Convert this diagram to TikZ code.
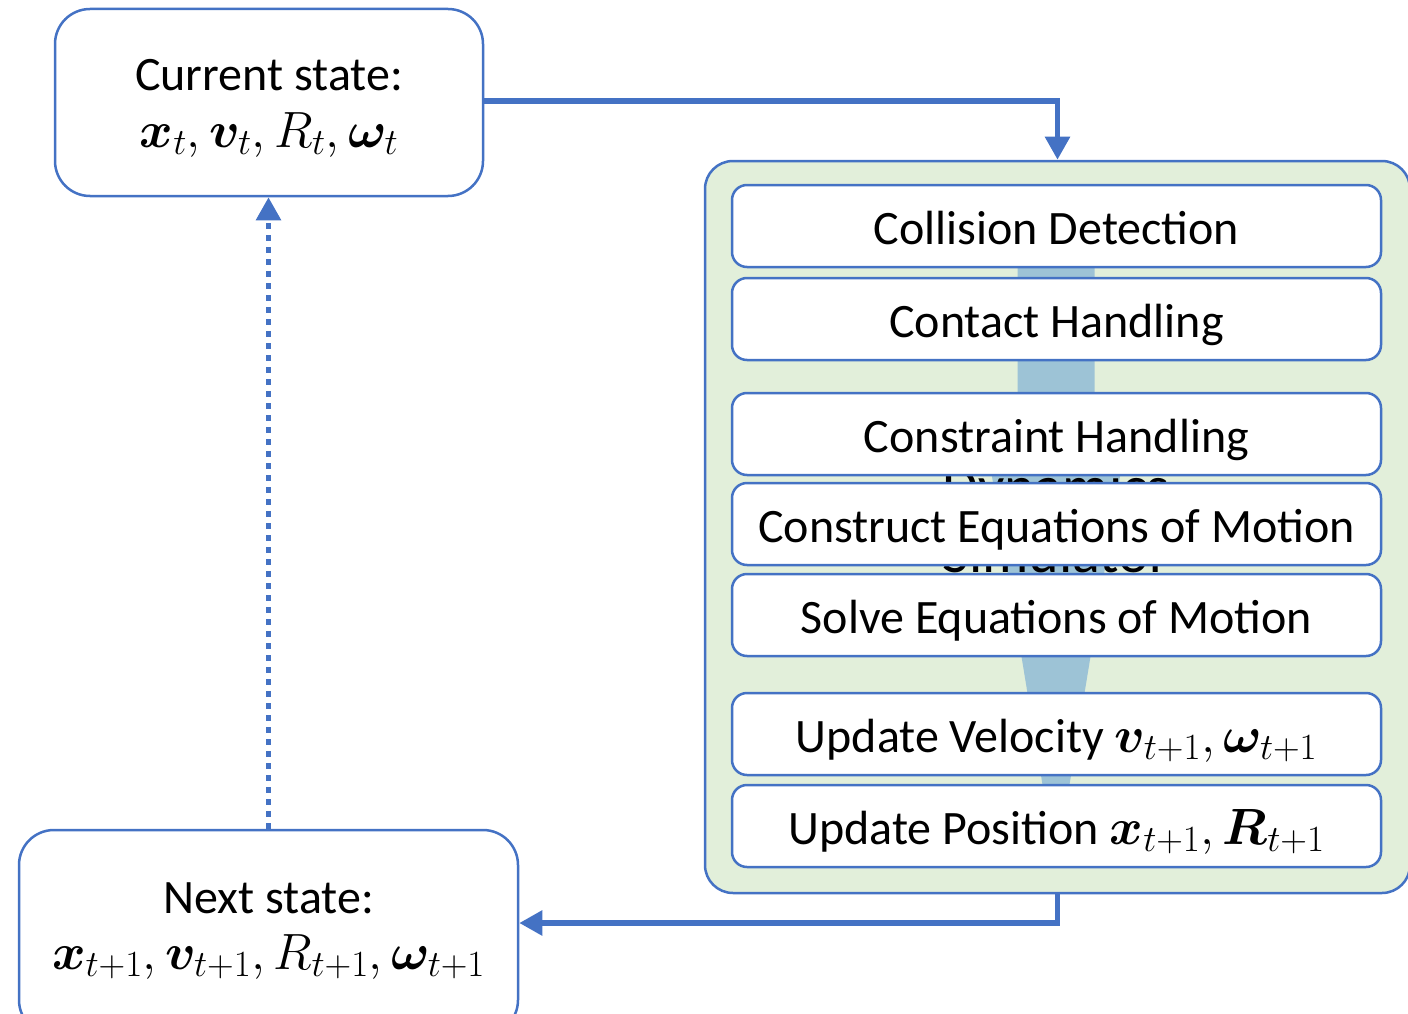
\RequirePackage{fix-cm}
\documentclass[tikz,border=0pt]{standalone}
\usepackage{amsmath}
\usepackage{bm}
\usepackage{fontspec}
\setmainfont{Carlito}
\usetikzlibrary{arrows.meta}

% larger maths (and subscripts) than the default ratios give
\DeclareMathSizes{48}{51}{37}{28}

\definecolor{edgeblue}{HTML}{4472C4}
\definecolor{simgreen}{HTML}{E2EFDA}
\definecolor{flowblue}{HTML}{9DC3D6}

\tikzset{
  stagebox/.style={draw=edgeblue, fill=white, line width=2.5pt, rounded corners=15pt,
    minimum width=649pt, minimum height=82pt, inner sep=0pt,
    text height=42pt, text depth=6pt, font=\fontsize{48}{58}\selectfont},
  statebox/.style={draw=edgeblue, fill=white, line width=2.5pt, rounded corners=35pt, inner sep=0pt},
  lbl/.style={anchor=base, inner sep=0pt, font=\fontsize{48}{58}\selectfont},
  biglbl/.style={anchor=base, inner sep=0pt, font=\fontsize{58}{70}\selectfont},
  conn/.style={draw=edgeblue, line width=5.5pt, -{Triangle[length=23pt,width=24pt]}},
}

\begin{document}
\begin{tikzpicture}[x=1pt, y=-1pt]
\useasboundingbox (0,0) rectangle (1408,1014);

% state boxes
\node[statebox, minimum width=428pt, minimum height=187pt] (cur) at (269,102.5) {};
\node[lbl] (curhead) at (269,91) {Current state:};
\node[lbl] (curmath) at (269,147) {$\bm{x}_t,\bm{v}_t,R_t,\bm{\omega}_t$};

\node[statebox, minimum width=499pt, minimum height=205pt] (nxt) at (268.5,932.5) {};
\node[lbl] (nxthead) at (268.5,913) {Next state:};
\node[lbl] (nxtmath) at (268.5,969) {$\bm{x}_{t+1},\bm{v}_{t+1},R_{t+1},\bm{\omega}_{t+1}$};

% simulator container
\node[draw=edgeblue, fill=simgreen, line width=2.5pt, rounded corners=28pt,
  minimum width=705pt, minimum height=732pt, inner sep=0pt] (sim) at (1057.5,527) {};

% flow arrow and title behind the stages
\fill[flowblue] (1017.5,230) -- (1094.5,230) -- (1094.5,440) -- (1126,440)
  -- (1056,867) -- (986,440) -- (1017.5,440) -- cycle;
\node[biglbl] (simtitle1) at (1056,506) {Dynamics};
\node[biglbl] (simtitle2) at (1056,572) {Simulator};

% pipeline stages
\node[stagebox] (s1) at (1056.5,226) {Collision Detection};
\node[stagebox] (s2) at (1056.5,319) {Contact Handling};
\node[stagebox] (s3) at (1056.5,434) {Constraint Handling};
\node[stagebox] (s4) at (1056.5,524) {Construct Equations of Motion};
\node[stagebox] (s5) at (1056.5,615) {Solve Equations of Motion};
\node[stagebox] (s6) at (1056.5,734) {Update Velocity $\bm{v}_{t+1},\bm{\omega}_{t+1}$};
\node[stagebox] (s7) at (1056.5,826) {Update Position $\bm{x}_{t+1},\bm{R}_{t+1}$};

% connectors
\draw[conn] ([yshift=1.5pt]cur.east) -| (sim.north);
\draw[conn] (sim.south) |- ([yshift=9.5pt]nxt.east);
\draw[conn, dash pattern=on 6pt off 6pt] (nxt.north) -- (nxt.north |- cur.south);
\end{tikzpicture}
\end{document}
